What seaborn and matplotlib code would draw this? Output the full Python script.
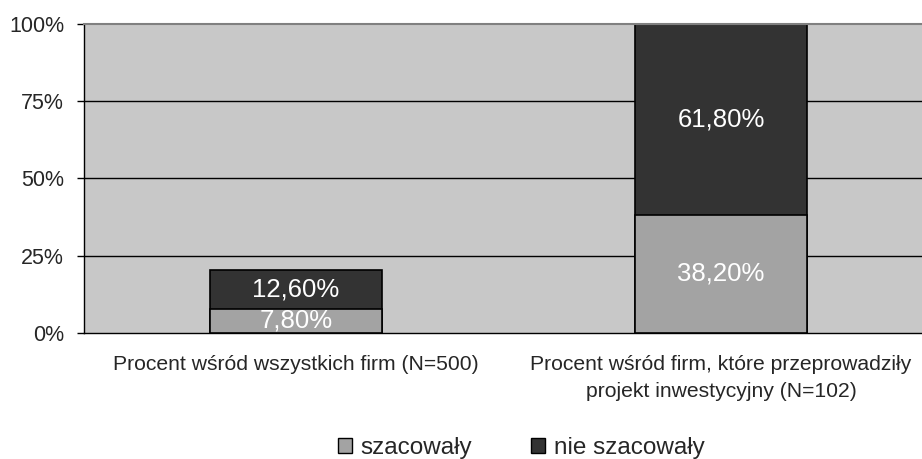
import matplotlib
matplotlib.use("Agg")
import matplotlib.pyplot as plt
import matplotlib.patches as mpatches
import seaborn as sns
import pandas as pd

categories = ["Procent wśród wszystkich firm (N=500)",
              "Procent wśród firm, które przeprowadziły\nprojekt inwestycyjny (N=102)"]
szacowaly = [7.8, 38.2]
nie_szacowaly = [12.6, 61.8]
series_names = ["szacowały", "nie szacowały"]
yticks = [0, 25, 50, 75, 100]
ytick_labels = ["0%", "25%", "50%", "75%", "100%"]

sns.set_theme(style="white")
plt.rcParams['font.family'] = ['Liberation Sans', 'DejaVu Sans']

light = "#a3a3a3"
dark = "#333333"

df = pd.DataFrame({
    "cat": categories,
    "sz": szacowaly,
    "nie": nie_szacowaly,
})
df["total"] = df["sz"] + df["nie"]

fig = plt.figure(figsize=(9.22, 4.59), dpi=100)
W, H = 922, 459
ax = fig.add_axes([83.5 / W, 1 - 333 / H, (933.5 - 83.5) / W, (333 - 24) / H])
ax.set_facecolor("#c8c8c8")

for y in [25, 50, 75]:
    ax.axhline(y, color="black", lw=1.0, zorder=0.5)

sns.barplot(data=df, x="cat", y="total", color=dark, edgecolor="black",
            linewidth=1.2, width=0.405, saturation=1, ax=ax, zorder=2)
sns.barplot(data=df, x="cat", y="sz", color=light, edgecolor="black",
            linewidth=1.2, width=0.405, saturation=1, ax=ax, zorder=3)

for i in range(len(categories)):
    s = szacowaly[i]
    n = nie_szacowaly[i]
    ax.text(i, s / 2, f"{s:.2f}%".replace(".", ","), ha="center", va="center",
            color="white", fontsize=18.5, zorder=5)
    ax.text(i, s + n / 2, f"{n:.2f}%".replace(".", ","), ha="center", va="center",
            color="white", fontsize=18.5, zorder=5)

ax.set_xlim(-0.5, 1.5)
ax.set_ylim(0, 100)
ax.set_yticks(yticks)
ax.set_yticklabels(ytick_labels, fontsize=15.5)
ax.set_xticks([0.5], minor=True)
ax.set_xticks([0, 1])
ax.set_xticklabels(categories, fontsize=15.2, linespacing=1.55)
ax.tick_params(axis="x", which="major", length=0, pad=16)
ax.tick_params(axis="x", which="minor", length=5, width=1, color="black", direction="out")
ax.tick_params(axis="y", length=5, width=1, color="black", direction="out", pad=9, left=True)
ax.set_xlabel("")
ax.set_ylabel("")

for side in ["left", "bottom"]:
    ax.spines[side].set_color("black")
    ax.spines[side].set_linewidth(1.0)
ax.spines["top"].set_color("#808080")
ax.spines["top"].set_linewidth(1.5)
ax.spines["right"].set_visible(False)

handles = [mpatches.Patch(facecolor=light, edgecolor="black", lw=1.0),
           mpatches.Patch(facecolor=dark, edgecolor="black", lw=1.0)]
fig.legend(handles, series_names, loc="center", bbox_to_anchor=(521 / W, 1 - 448 / H),
           ncol=2, frameon=False, fontsize=17.5, handlelength=0.6, handleheight=0.6,
           handletextpad=0.35, columnspacing=2.4)

fig.savefig("out.png", dpi=100)
